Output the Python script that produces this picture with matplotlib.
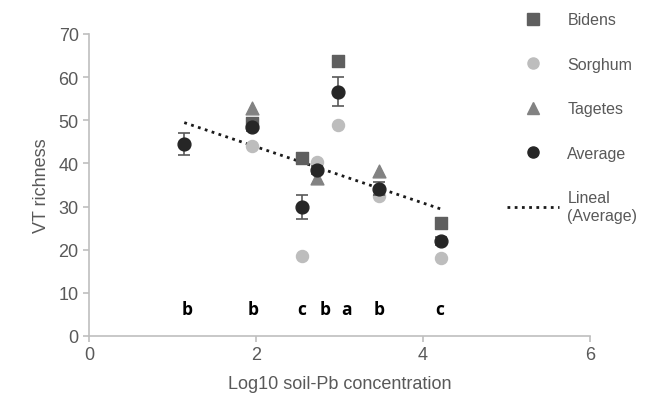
import numpy as np
import matplotlib.pyplot as plt
from matplotlib.lines import Line2D

plt.rcParams['font.family'] = ['Liberation Sans', 'DejaVu Sans']

# data
x_bid = [1.95, 2.55, 2.98, 4.22]
y_bid = [49.4, 41.3, 63.8, 26.2]

x_sor = [1.95, 2.55, 2.73, 2.98, 3.47, 4.22]
y_sor = [44.1, 18.6, 40.4, 49.0, 32.5, 18.1]

x_tag = [1.95, 2.73, 3.47]
y_tag = [52.9, 36.7, 38.3]

x_avg = [1.14, 1.95, 2.55, 2.73, 2.98, 3.47, 4.22]
y_avg = [44.5, 48.5, 29.9, 38.5, 56.6, 34.1, 22.0]
e_avg = [2.6, 1.0, 2.8, 1.0, 3.4, 1.5, 1.0]

letters = ['b', 'b', 'c', 'b', 'a', 'b', 'c']
x_let = [1.17, 1.97, 2.55, 2.83, 3.09, 3.48, 4.2]

c_bid = '#5f5f5f'
c_sor = '#bdbdbd'
c_tag = '#828282'
c_avg = '#262626'
grey = '#595959'

fig = plt.figure(figsize=(6.46, 4.06), dpi=100)
ax = fig.add_axes([0.138, 0.17, 0.775, 0.744])

ax.scatter(x_bid, y_bid, marker='s', s=75, color=c_bid, zorder=3)
ax.scatter(x_sor, y_sor, marker='o', s=75, color=c_sor, zorder=3)
ax.scatter(x_tag, y_tag, marker='^', s=85, color=c_tag, zorder=3)
ax.errorbar(x_avg, y_avg, yerr=e_avg, fmt='none', ecolor=grey,
            elinewidth=1.2, capsize=4, capthick=1.2, zorder=4)
ax.scatter(x_avg, y_avg, marker='o', s=85, color=c_avg, zorder=5)

# linear trend of the averages
k, b = np.polyfit(x_avg, y_avg, 1)
xs = np.array([min(x_avg), max(x_avg)])
ax.plot(xs, k * xs + b, linestyle=(0, (1, 1.6)), color='#1a1a1a',
        linewidth=2, zorder=2)

for xl, t in zip(x_let, letters):
    ax.text(xl, 6.3, t, ha='center', va='center', fontsize=12.5,
            fontweight='bold', family=['Open Sans', 'DejaVu Sans'],
            color='black')

ax.set_xlim(0, 6)
ax.set_ylim(0, 70)
ax.set_xticks([0, 2, 4, 6])
ax.set_yticks(range(0, 71, 10))
for s in ['top', 'right']:
    ax.spines[s].set_visible(False)
for s in ['left', 'bottom']:
    ax.spines[s].set_color('#bfbfbf')
    ax.spines[s].set_linewidth(1.2)
ax.tick_params(colors='#bfbfbf', labelcolor=grey, labelsize=13,
               length=4, width=1.2)
ax.set_xlabel('Log10 soil-Pb concentration', fontsize=13, color=grey,
              labelpad=8)
ax.set_ylabel('VT richness', fontsize=13, color=grey, labelpad=6)

handles = [
    Line2D([], [], marker='s', color=c_bid, linestyle='none', markersize=8),
    Line2D([], [], marker='o', color=c_sor, linestyle='none', markersize=8),
    Line2D([], [], marker='^', color=c_tag, linestyle='none', markersize=8),
    Line2D([], [], marker='o', color=c_avg, linestyle='none', markersize=8),
    Line2D([], [], linestyle=(0, (1, 1.6)), color='#1a1a1a', linewidth=2),
]
labels = ['Bidens', 'Sorghum', 'Tagetes', 'Average', 'Lineal\n(Average)']
leg = fig.legend(handles, labels, loc='upper left',
                 bbox_to_anchor=(0.762, 1.003), frameon=False, fontsize=11.5,
                 labelspacing=1.85, handlelength=3.3, handletextpad=0.5,
                 labelcolor=grey)

fig.savefig('out.png', dpi=100)
